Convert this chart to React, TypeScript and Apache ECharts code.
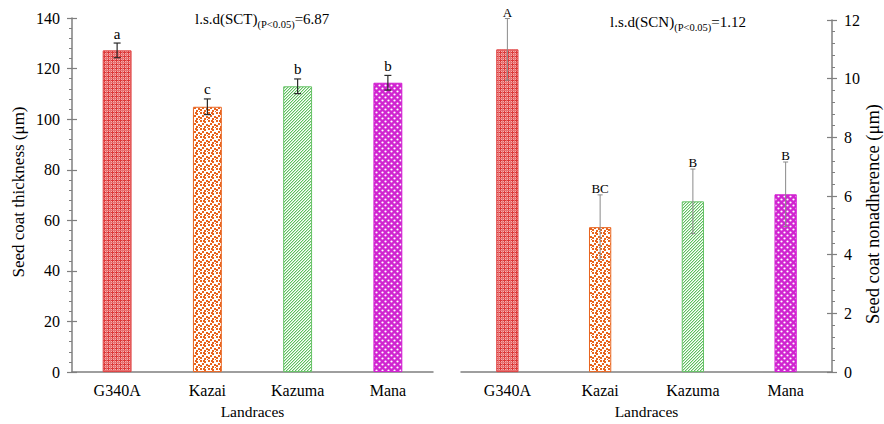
import React, { useEffect, useRef } from "react";
import * as echarts from "echarts";

const categories = ["G340A", "Kazai", "Kazuma", "Mana"];
const sctValues = [127.2, 104.9, 113.0, 114.4];
const sctErrors = [2.9, 3.1, 2.9, 2.9];
const sctLetters = ["a", "c", "b", "b"];
const scnValues = [11.0, 4.94, 5.82, 6.06];
const scnErrors = [1.05, 1.1, 1.1, 1.1];
const scnLetters = ["A", "BC", "B", "B"];
const sctTitle = ["l.s.d(SCT)", "(P<0.05)", "=6.87"];
const scnTitle = ["l.s.d(SCN)", "(P<0.05)", "=1.12"];

const FONT = "Liberation Serif";
const borderColors = ["#e04040", "#e8641e", "#66c266", "#d21fd2"];

function makePattern(kind: number): HTMLCanvasElement {
  const c = document.createElement("canvas");
  const ctx = c.getContext("2d")!;
  if (kind === 0) {
    c.width = 4; c.height = 4;
    ctx.fillStyle = "#f4b0b0"; ctx.fillRect(0, 0, 4, 4);
    ctx.fillStyle = "#dc3838";
    ctx.fillRect(0, 0, 1, 4);
    ctx.fillRect(0, 0, 4, 1);
    ctx.fillStyle = "#e87070";
    ctx.fillRect(2, 0, 1, 4);
    ctx.fillRect(0, 2, 4, 1);
  } else if (kind === 1) {
    c.width = 8; c.height = 8;
    ctx.fillStyle = "#ffffff"; ctx.fillRect(0, 0, 8, 8);
    ctx.fillStyle = "#e8641e";
    const pts = [[0, 0], [4, 1], [2, 3], [6, 4], [0, 5], [4, 6], [7, 7], [3, 0]];
    pts.forEach(([x, y]) => ctx.fillRect(x, y, 2, 2));
  } else if (kind === 2) {
    c.width = 3; c.height = 3;
    ctx.fillStyle = "#ffffff"; ctx.fillRect(0, 0, 3, 3);
    ctx.fillStyle = "#5fbf5f";
    for (let x = 0; x < 3; x++) ctx.fillRect(x, 2 - x, 1, 1);
    ctx.fillStyle = "#c2e8c2";
    for (let x = 0; x < 3; x++) ctx.fillRect(x, (3 - x) % 3, 1, 1);
  } else {
    c.width = 6; c.height = 6;
    ctx.fillStyle = "#d024d0"; ctx.fillRect(0, 0, 6, 6);
    ctx.fillStyle = "#ffffff";
    [[1.5, 1.5], [4.5, 4.5]].forEach(([x, y]) => {
      ctx.beginPath(); ctx.arc(x, y, 1.1, 0, Math.PI * 2); ctx.fill();
    });
  }
  return c;
}

function errorSeries(
  xi: number, yi: number, values: number[], errors: number[], letters: string[],
  color: string, capHalf: number, letterSize: number, lw: number, gap: number
) {
  return {
    type: "custom",
    xAxisIndex: xi,
    yAxisIndex: yi,
    z: 5,
    data: values.map((v, i) => [i, v, errors[i]]),
    encode: { x: 0, y: 1 },
    renderItem: (params: any, api: any) => {
      const x = api.value(0);
      const v = api.value(1);
      const e = api.value(2);
      const top = api.coord([x, v + e]);
      const bot = api.coord([x, v - e]);
      const st = { stroke: color, lineWidth: lw };
      return {
        type: "group",
        children: [
          { type: "line", shape: { x1: top[0], y1: top[1], x2: bot[0], y2: bot[1] }, style: st },
          { type: "line", shape: { x1: top[0] - capHalf, y1: top[1], x2: top[0] + capHalf, y2: top[1] }, style: st },
          { type: "line", shape: { x1: bot[0] - capHalf, y1: bot[1], x2: bot[0] + capHalf, y2: bot[1] }, style: st },
          {
            type: "text",
            x: top[0],
            y: top[1] - gap,
            style: {
              text: letters[params.dataIndex],
              fill: "#000",
              fontFamily: FONT,
              fontSize: letterSize,
              align: "center",
              verticalAlign: "bottom",
            },
          },
        ],
      };
    },
  };
}

export default function App() {
  const ref = useRef<HTMLDivElement>(null);
  useEffect(() => {
    if (!ref.current) return;
    const chart = echarts.init(ref.current, undefined, { renderer: "svg" });
    const patterns = [0, 1, 2, 3].map((k) => ({ image: makePattern(k), repeat: "repeat" }));
    const axisGray = "#7f7f7f";
    const labelStyle = { color: "#000", fontFamily: FONT, fontSize: 15 };
    const xAxisBase = (gi: number) => ({
      type: "category",
      gridIndex: gi,
      data: categories,
      axisLine: { lineStyle: { color: axisGray, width: 1.5 } },
      axisTick: { show: false },
      axisLabel: { ...labelStyle, fontSize: 16, margin: 10 },
      name: "Landraces",
      nameLocation: "middle",
      nameGap: 28,
      nameTextStyle: { ...labelStyle, fontSize: 15.5 },
    });
    const yMain = (gi: number, pos: string, max: number, interval: number) => ({
      type: "value",
      gridIndex: gi,
      position: pos,
      min: 0,
      max,
      interval,
      axisLine: { show: true, lineStyle: { color: axisGray, width: 1.5 } },
      axisTick: { show: true, length: 5, lineStyle: { color: axisGray, width: 1.2 } },
      minorTick: { show: true, splitNumber: 5, length: 3, lineStyle: { color: axisGray, width: 1 } },
      splitLine: { show: false },
      minorSplitLine: { show: false },
      axisLabel: { ...labelStyle, fontSize: 16, margin: 12 },
    });
    const yInner = (gi: number, pos: string, max: number, interval: number) => ({
      type: "value",
      gridIndex: gi,
      position: pos,
      min: 0,
      max,
      interval,
      axisLine: { show: false },
      axisTick: { show: true, inside: true, length: 5, lineStyle: { color: axisGray, width: 1.2 } },
      splitLine: { show: false },
      axisLabel: { show: false },
    });
    const titleRich = {
      b: { fontFamily: FONT, fontSize: 15, color: "#000", lineHeight: 18, verticalAlign: "bottom" },
      s: { fontFamily: FONT, fontSize: 10.5, color: "#000", lineHeight: 12, verticalAlign: "bottom", padding: [0, 0, -4, 0] },
    };
    chart.setOption({
      animation: false,
      grid: [
        { left: 72, top: 18, width: 361, height: 358 },
        { left: 461, top: 20, width: 371, height: 356 },
      ],
      xAxis: [xAxisBase(0), xAxisBase(1)],
      yAxis: [
        yMain(0, "left", 140, 20),
        yInner(0, "left", 140, 20),
        yMain(1, "right", 12, 2),
        yInner(1, "right", 12, 2),
      ],
      series: [
        {
          type: "bar",
          xAxisIndex: 0,
          yAxisIndex: 0,
          barWidth: "32%",
          data: sctValues.map((v, i) => ({
            value: v,
            itemStyle: { color: patterns[i], borderColor: borderColors[i], borderWidth: 1 },
          })),
        },
        errorSeries(0, 0, sctValues, sctErrors, sctLetters, "#2a2a2a", 3.5, 15, 1.2, 2),
        {
          type: "bar",
          xAxisIndex: 1,
          yAxisIndex: 2,
          barWidth: "24%",
          data: scnValues.map((v, i) => ({
            value: v,
            itemStyle: { color: patterns[i], borderColor: borderColors[i], borderWidth: 1 },
          })),
        },
        errorSeries(1, 2, scnValues, scnErrors, scnLetters, "#8a8a8a", 2.5, 13, 1, 0),
      ],
      graphic: [
        {
          type: "text",
          left: 195,
          top: 11,
          style: { text: `{b|${sctTitle[0]}}{s|${sctTitle[1]}}{b|${sctTitle[2]}}`, rich: titleRich },
        },
        {
          type: "text",
          left: 610,
          top: 14,
          style: { text: `{b|${scnTitle[0]}}{s|${scnTitle[1]}}{b|${scnTitle[2]}}`, rich: titleRich },
        },
        {
          type: "text",
          x: 18,
          y: 192,
          rotation: Math.PI / 2,
          style: {
            text: "Seed coat thickness (μm)",
            fill: "#000",
            fontFamily: FONT,
            fontSize: 17,
            align: "center",
            verticalAlign: "middle",
          },
        },
        {
          type: "text",
          x: 873,
          y: 214,
          rotation: Math.PI / 2,
          style: {
            text: "Seed coat nonadherence (μm)",
            fill: "#000",
            fontFamily: FONT,
            fontSize: 18.5,
            align: "center",
            verticalAlign: "middle",
          },
        },
      ],
    });
    return () => chart.dispose();
  }, []);
  return <div ref={ref} style={{ width: 884, height: 424, position: "absolute", left: 0, top: 0 }} />;
}
